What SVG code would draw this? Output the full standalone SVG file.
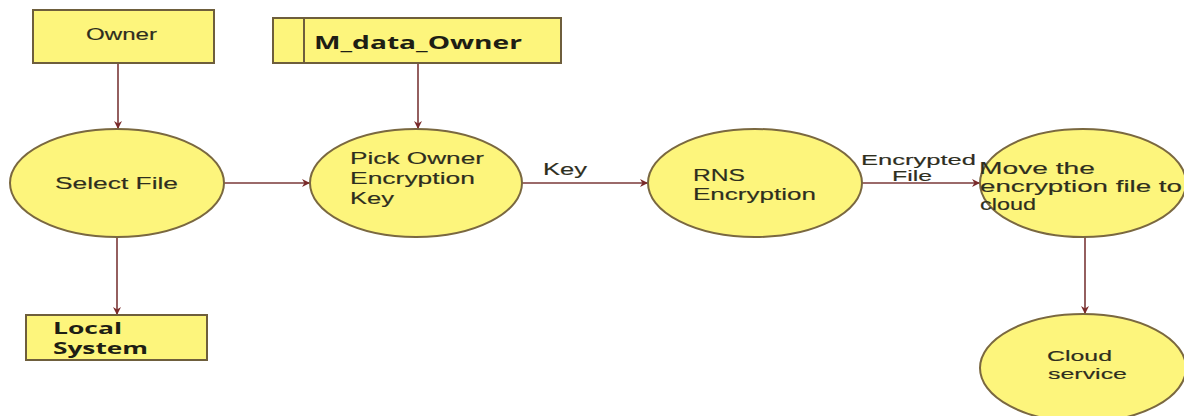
<svg xmlns="http://www.w3.org/2000/svg" width="1184" height="416" viewBox="0 0 1184 416">
<style>
.box{fill:#fdf57c;stroke:#6e5e3c;stroke-width:2}
.node{fill:#fdf57c;stroke:#7a6840;stroke-width:2}
.t{font-family:"Liberation Sans",Arial,sans-serif;font-size:17px;fill:#2e2e1e;stroke:#2e2e1e;stroke-width:0.15}
.s{font-size:15px}
.tb{font-family:"Open Sans","DejaVu Sans",sans-serif;font-size:18px;font-weight:bold;fill:#1e1e14}
.tl{font-size:16px}
.edge{stroke:#7a3838;stroke-width:1.6;fill:none;marker-end:url(#ah)}
</style>
<defs>
<marker id="ah" viewBox="0 0 10 10" refX="10" refY="5" markerWidth="9" markerHeight="8" orient="auto" markerUnits="userSpaceOnUse">
<path d="M0,0 L10,5 L0,10 L3,5 Z" fill="#7a2a2a"/>
</marker>
</defs>
<rect width="1184" height="416" fill="#ffffff"/>
<g id="connectors">
<line class="edge" x1="118" y1="63" x2="118" y2="129"/>
<line class="edge" x1="418" y1="63" x2="418" y2="129"/>
<line class="edge" x1="224" y1="183" x2="310" y2="183"/>
<line class="edge" x1="522" y1="183" x2="648" y2="183"/>
<line class="edge" x1="862" y1="183" x2="980" y2="183"/>
<line class="edge" x1="117" y1="237" x2="117" y2="315"/>
<line class="edge" x1="1085" y1="237" x2="1085" y2="314"/>
<text class="t" x="543" y="175" textLength="44" lengthAdjust="spacingAndGlyphs">Key</text>
<text class="t s" x="861" y="165" textLength="115" lengthAdjust="spacingAndGlyphs">Encrypted</text>
<text class="t s" x="892" y="181" textLength="40" lengthAdjust="spacingAndGlyphs">File</text>
</g>
<g id="owner">
<rect class="box" x="33" y="10" width="181" height="53"/>
<text class="t" x="86" y="40" textLength="71" lengthAdjust="spacingAndGlyphs">Owner</text>
</g>
<g id="m_data_owner">
<rect class="box" x="273" y="18" width="288" height="45"/>
<line x1="304" y1="18" x2="304" y2="63" stroke="#6e5e3c" stroke-width="2"/>
<text class="tb" x="314" y="49" textLength="208" lengthAdjust="spacingAndGlyphs">M_data_Owner</text>
</g>
<g id="select_file">
<ellipse class="node" cx="117" cy="183" rx="107" ry="54"/>
<text class="t" x="55" y="189" textLength="123" lengthAdjust="spacingAndGlyphs">Select File</text>
</g>
<g id="pick_key">
<ellipse class="node" cx="416" cy="183" rx="106" ry="54"/>
<text class="t" x="350" y="164" textLength="134" lengthAdjust="spacingAndGlyphs">Pick Owner</text>
<text class="t" x="350" y="184" textLength="125" lengthAdjust="spacingAndGlyphs">Encryption</text>
<text class="t" x="350" y="204" textLength="44" lengthAdjust="spacingAndGlyphs">Key</text>
</g>
<g id="rns">
<ellipse class="node" cx="755" cy="183" rx="107" ry="54"/>
<text class="t" x="693" y="181" textLength="52" lengthAdjust="spacingAndGlyphs">RNS</text>
<text class="t" x="693" y="200" textLength="123" lengthAdjust="spacingAndGlyphs">Encryption</text>
</g>
<g id="move">
<ellipse class="node" cx="1083" cy="183" rx="103" ry="54"/>
<text class="t" x="979" y="174" textLength="116" lengthAdjust="spacingAndGlyphs">Move the</text>
<text class="t" x="980" y="192" textLength="202" lengthAdjust="spacingAndGlyphs">encryption file to</text>
<text class="t" x="980" y="210" textLength="56" lengthAdjust="spacingAndGlyphs">cloud</text>
</g>
<g id="local_system">
<rect class="box" x="26" y="315" width="181" height="45"/>
<text class="tb tl" x="53" y="334" textLength="69" lengthAdjust="spacingAndGlyphs">Local</text>
<text class="tb tl" x="53" y="354" textLength="95" lengthAdjust="spacingAndGlyphs">System</text>
</g>
<g id="cloud_service">
<ellipse class="node" cx="1083" cy="368" rx="103" ry="54"/>
<text class="t s" x="1047" y="361" textLength="65" lengthAdjust="spacingAndGlyphs">Cloud</text>
<text class="t s" x="1048" y="379" textLength="79" lengthAdjust="spacingAndGlyphs">service</text>
</g>
</svg>
